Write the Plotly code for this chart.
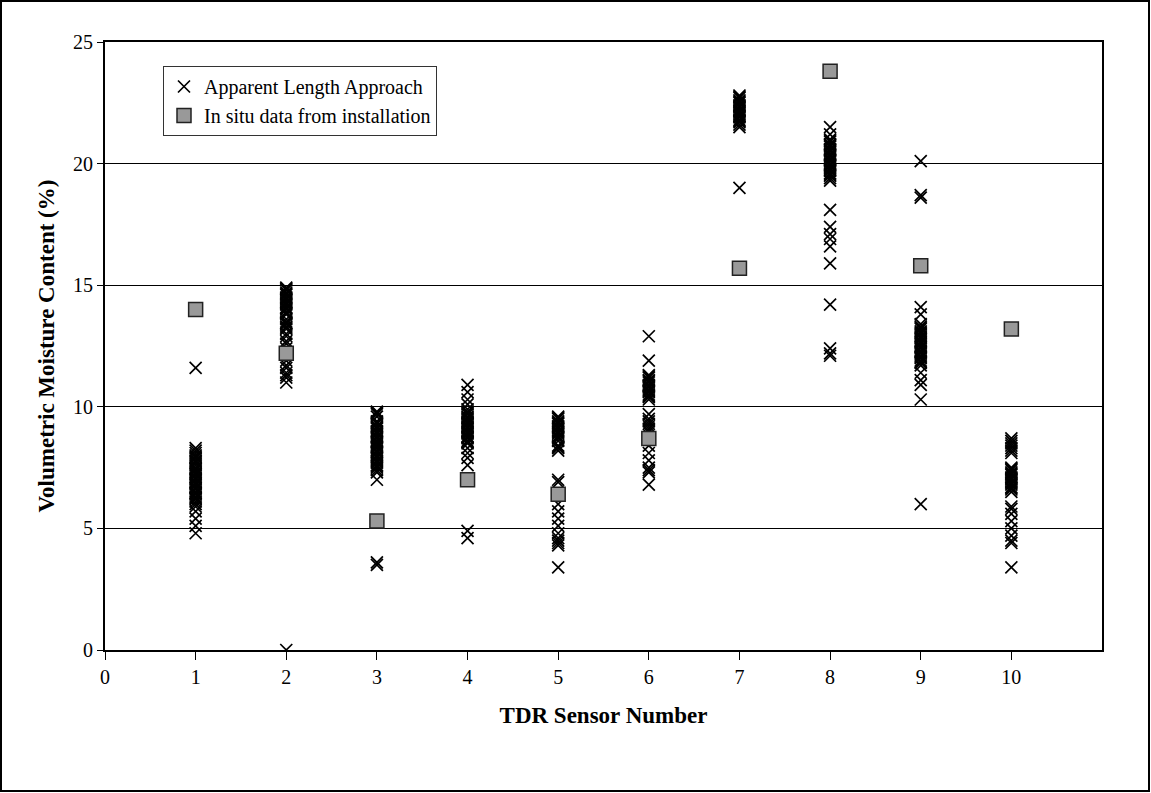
import plotly.graph_objects as go

sensors = [1, 2, 3, 4, 5, 6, 7, 8, 9, 10]

ala_s1 = [11.6, 8.3, 8.2, 8.1, 8.0, 7.95, 7.9, 7.8, 7.75, 7.7, 7.6, 7.5, 7.45, 7.4, 7.3, 7.25,
          7.2, 7.1, 7.05, 7.0, 6.9, 6.85, 6.8, 6.7, 6.65, 6.6, 6.5, 6.45, 6.4, 6.3, 6.25, 6.2,
          6.1, 6.0, 5.9, 5.7, 5.4, 5.1, 4.8]
ala_s2 = [14.9, 14.85, 14.8, 14.7, 14.65, 14.6, 14.5, 14.45, 14.4, 14.3, 14.25, 14.2, 14.1,
          14.05, 14.0, 13.9, 13.85, 13.8, 13.6, 13.5, 13.45, 13.4, 13.3, 13.25, 13.2, 13.0,
          12.9, 12.7, 12.6, 12.4, 11.9, 11.7, 11.6, 11.4, 11.3, 11.2, 11.0, 0.0]
ala_s3 = [9.8, 9.75, 9.7, 9.6, 9.4, 9.35, 9.3, 9.2, 9.15, 9.1, 9.0, 8.95, 8.9, 8.8, 8.75, 8.7,
          8.6, 8.55, 8.5, 8.4, 8.35, 8.3, 8.2, 8.15, 8.1, 8.0, 7.95, 7.9, 7.8, 7.75, 7.7, 7.6,
          7.55, 7.5, 7.4, 7.3, 7.0, 3.6, 3.5]
ala_s4 = [10.9, 10.6, 10.3, 10.1, 9.9, 9.8, 9.75, 9.7, 9.6, 9.55, 9.5, 9.4, 9.35, 9.3, 9.2,
          9.15, 9.1, 9.0, 8.95, 8.9, 8.8, 8.75, 8.7, 8.6, 8.55, 8.5, 8.3, 8.1, 7.9, 7.6, 4.9, 4.6]
ala_s5 = [9.6, 9.55, 9.5, 9.4, 9.35, 9.3, 9.2, 9.15, 9.1, 9.0, 8.95, 8.9, 8.8, 8.75, 8.7, 8.6,
          8.4, 8.35, 8.3, 8.2, 7.0, 6.9, 6.0, 5.7, 5.4, 5.1, 4.8, 4.6, 4.5, 4.4, 4.3, 3.4]
ala_s6 = [12.9, 11.9, 11.3, 11.25, 11.2, 11.1, 11.05, 11.0, 10.9, 10.85, 10.8, 10.7, 10.65,
          10.6, 10.5, 10.45, 10.4, 10.3, 9.7, 9.5, 9.4, 9.3, 9.2, 9.1, 9.0, 8.4, 8.1, 7.8, 7.5,
          7.4, 7.3, 6.8]
ala_s7 = [22.8, 22.75, 22.7, 22.6, 22.55, 22.5, 22.4, 22.35, 22.3, 22.2, 22.15, 22.1, 22.0,
          21.95, 21.9, 21.8, 21.75, 21.7, 21.6, 21.5, 19.0]
ala_s8 = [21.5, 21.2, 21.0, 20.95, 20.9, 20.8, 20.75, 20.7, 20.6, 20.55, 20.5, 20.4, 20.35,
          20.3, 20.2, 20.15, 20.1, 20.0, 19.95, 19.9, 19.8, 19.75, 19.7, 19.6, 19.55, 19.5,
          19.4, 19.3, 18.1, 17.4, 17.1, 16.9, 16.6, 15.9, 14.2, 12.4, 12.2, 12.1]
ala_s9 = [20.1, 18.7, 18.6, 14.1, 13.8, 13.4, 13.3, 13.25, 13.2, 13.1, 13.05, 13.0, 12.9,
          12.85, 12.8, 12.7, 12.65, 12.6, 12.5, 12.45, 12.4, 12.3, 12.25, 12.2, 12.1, 12.05,
          12.0, 11.9, 11.85, 11.8, 11.7, 11.4, 11.1, 10.9, 10.3, 6.0]
ala_s10 = [8.7, 8.6, 8.5, 8.4, 8.3, 8.2, 8.1, 7.5, 7.45, 7.4, 7.3, 7.25, 7.2, 7.1, 7.05, 7.0,
           6.9, 6.85, 6.8, 6.7, 6.65, 6.6, 6.5, 5.9, 5.8, 5.6, 5.3, 5.0, 4.7, 4.5, 4.4, 3.4]

ala_all = [ala_s1, ala_s2, ala_s3, ala_s4, ala_s5, ala_s6, ala_s7, ala_s8, ala_s9, ala_s10]

insitu = [14.0, 12.2, 5.3, 7.0, 6.4, 8.7, 15.7, 23.8, 15.8, 13.2]

x_ticks = [0, 1, 2, 3, 4, 5, 6, 7, 8, 9, 10]
y_ticks = [0, 5, 10, 15, 20, 25]

ala_x, ala_y = [], []
for s, vals in zip(sensors, ala_all):
    for v in vals:
        ala_x.append(s)
        ala_y.append(v)

FONT = "Liberation Serif"

fig = go.Figure()
fig.add_trace(go.Scatter(
    x=ala_x, y=ala_y, mode="markers", name="Apparent Length Approach",
    marker=dict(symbol="x-thin", size=12, color="black",
                line=dict(color="black", width=1.7)),
))
fig.add_trace(go.Scatter(
    x=sensors, y=insitu, mode="markers", name="In situ data from installation",
    marker=dict(symbol="square", size=14, color="#999999",
                line=dict(color="#222222", width=1.5)),
))

L, R, T, B = 105, 49, 42, 143
W, H = 1151, 793
pw, ph = W - L - R, H - T - B
def px(xp):
    return (xp - L) / pw
def py(yp):
    return (H - B - yp) / ph

fig.add_shape(type="rect", xref="paper", yref="paper",
              x0=px(1), x1=px(1149), y0=py(791), y1=py(1),
              line=dict(color="black", width=2), fillcolor="rgba(0,0,0,0)", layer="below")

fig.update_layout(
    width=W, height=H,
    margin=dict(l=L, r=R, t=T, b=B, autoexpand=False),
    paper_bgcolor="white", plot_bgcolor="white",
    font=dict(family=FONT, color="black", size=20),
    showlegend=True,
    legend=dict(x=px(163), y=py(66), xanchor="left", yanchor="top",
                bgcolor="white", bordercolor="#333333", borderwidth=1,
                font=dict(family=FONT, size=20, color="black"),
                itemsizing="trace", tracegroupgap=0),
    xaxis=dict(range=[0, 11], tickmode="array", tickvals=x_ticks,
               ticktext=[str(t) for t in x_ticks],
               ticks="outside", ticklen=8, tickwidth=1, tickcolor="black",
               showline=True, linecolor="black", linewidth=2, mirror=True,
               showgrid=False, zeroline=False,
               tickfont=dict(family=FONT, size=20),
               title=dict(text="<b>TDR Sensor Number</b>", standoff=20,
                          font=dict(family=FONT, size=23))),
    yaxis=dict(range=[0, 25], tickmode="array", tickvals=y_ticks,
               ticktext=[str(t) for t in y_ticks],
               ticks="outside", ticklen=6, tickwidth=1, tickcolor="black",
               showline=True, linecolor="black", linewidth=2, mirror=True,
               showgrid=True, gridcolor="black", gridwidth=1, zeroline=False,
               tickfont=dict(family=FONT, size=20),
               title=dict(text="<b>Volumetric Moisture Content (%)</b>", standoff=12,
                          font=dict(family=FONT, size=23))),
)

fig.write_html("out.html", config={"displayModeBar": False},
               post_script="document.body.style.margin='0';")
